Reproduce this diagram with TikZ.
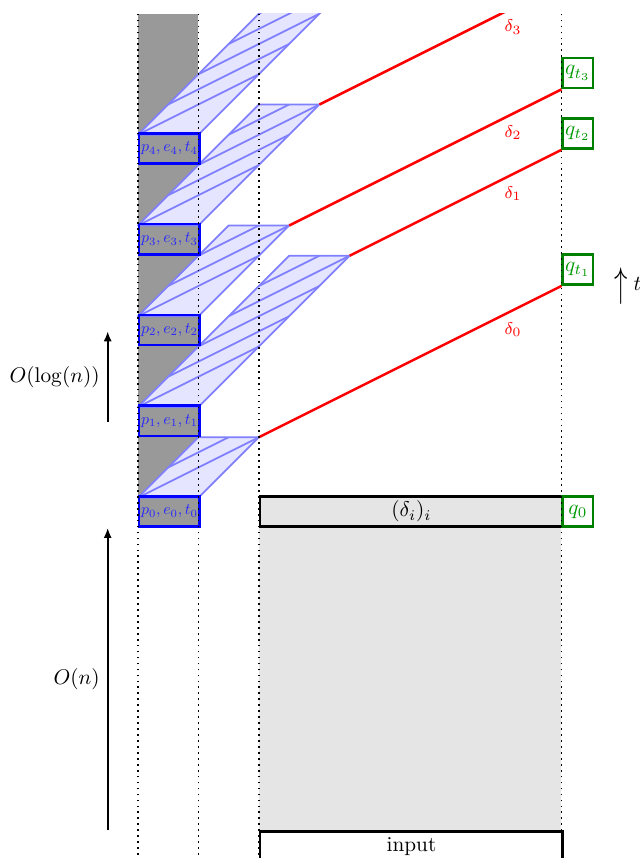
\documentclass[tikz,border=0pt]{standalone}
\usepackage{graphicx}
\usetikzlibrary{arrows.meta}
\newcommand{\ptext}[1]{\resizebox{0.94cm}{!}{$#1$}}
\begin{document}
\begin{tikzpicture}[
  pbox/.style={draw=blue, very thick, minimum width=1cm, minimum height=0.5cm, inner sep=0pt, text=blue!85, anchor=south west},
  qbox/.style={draw=green!50!black, very thick, fill=white, minimum width=0.5cm, minimum height=0.5cm, inner sep=0pt, text=green!60!black, anchor=south west},
  blackbox/.style={draw=black, very thick, minimum width=5cm, minimum height=0.5cm, inner sep=0pt},
  coneline/.style={draw=blue!50, thick},
  dline/.style={red, very thick},
  dlabel/.style={red, font=\footnotesize},
  guide/.style={dotted, thick},
  growarrow/.style={-{Latex[length=4.7pt,width=3.8pt]}, thick},
]
\useasboundingbox (-2.28,-5.455) rectangle (8.298,8.727);
\begin{scope}
  \clip (-2.28,-5.6) rectangle (8.298,8.5);
  % gray column and gray region
  \fill[gray!80] (0,0) rectangle (1,8.5);
  \fill[gray!20] (2,-5) rectangle (7,0);
  % cones
  \foreach \y/\h in {0.5/1, 2/2.5, 3.5/1.5, 5/2, 6.5/3} {
    \fill[blue!10] (0,\y) -- (1,\y) -- ++(\h,\h) -- ++(-1,0) -- cycle;
    \begin{scope}
      \clip (0,\y) -- (1,\y) -- ++(\h,\h) -- ++(-1,0) -- cycle;
      \foreach \k in {0,...,6} \draw[coneline] (\k/2,\y+\k/2) -- ++(4,2);
    \end{scope}
    \draw[coneline, line join=round] (0,\y) -- (1,\y) -- ++(\h,\h) -- ++(-1,0) -- cycle;
  }
  \coordinate (c0) at (2,1.5);
  \coordinate (c1) at (3.5,4.5);
  \coordinate (c2) at (2.5,5);
  \coordinate (c3) at (3,7);
  \coordinate (d3end) at (7,9);
  % p boxes
  \node[pbox] (p0) at (0,0) {\ptext{p_0,e_0,t_0}};
  \node[pbox] (p1) at (0,1.5) {\ptext{p_1,e_1,t_1}};
  \node[pbox] (p2) at (0,3) {\ptext{p_2,e_2,t_2}};
  \node[pbox] (p3) at (0,4.5) {\ptext{p_3,e_3,t_3}};
  \node[pbox] (p4) at (0,6) {\ptext{p_4,e_4,t_4}};
  % boxes
  \node[blackbox, fill=gray!20, anchor=south west] (delta) at (2,0) {$(\delta_i)_i$};
  \node[blackbox, fill=white, anchor=north west] (input) at (2,-5) {input};
  % q boxes
  \node[qbox] (q0) at (7,0) {$q_0$};
  \node[qbox] (qt1) at (7,4) {$q_{t_1}$};
  \node[qbox] (qt2) at (7,6.25) {$q_{t_2}$};
  \node[qbox] (qt3) at (7,7.25) {$q_{t_3}$};
  % red lines
  \draw[dline] (c0) -- (qt1.south west);
  \draw[dline] (c1) -- (qt2.south west);
  \draw[dline] (c2) -- (qt3.south west);
  \draw[dline] (c3) -- (d3end);
  \node[dlabel] (l0) at (6.2,3.28) {$\delta_0$};
  \node[dlabel] (l1) at (6.2,5.53) {$\delta_1$};
  \node[dlabel] (l2) at (6.2,6.53) {$\delta_2$};
  \node[dlabel] (l3) at (6.2,8.28) {$\delta_3$};
  % dotted guides
  \foreach \x in {0,1,2,7} \draw[guide] (\x,-5.6) -- (\x,8.5);
\end{scope}
% growth arrows
\coordinate (a1) at (-0.5,-5);
\coordinate (a2) at (-0.5,0);
\coordinate (b1) at (-0.5,1.75);
\coordinate (b2) at (-0.5,3.25);
\draw[growarrow] (a1) -- node[left] (on) {$O(n)$} (a2);
\draw[growarrow] (b1) -- node[left] (ologn) {$O(\log(n))$} (b2);
\node[anchor=west] (tlabel) at (7.75,4) {\raisebox{-2.6pt}{\scalebox{1.25}[1.95]{$\uparrow$}}$\;t$};
\end{tikzpicture}
\end{document}
